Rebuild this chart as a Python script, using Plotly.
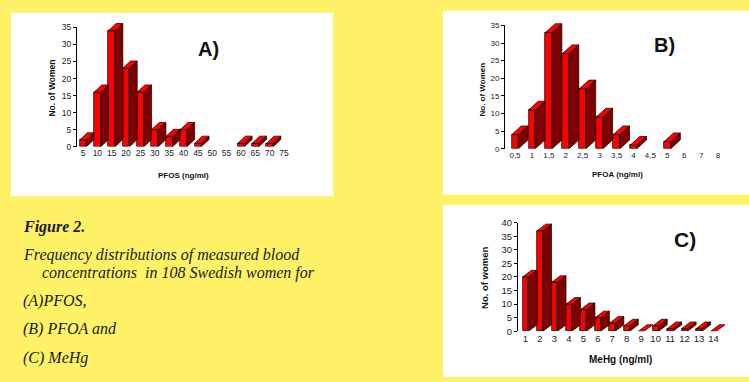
import plotly.graph_objects as go

# ---------------- data ----------------
pfos_labels = ["5", "10", "15", "20", "25", "30", "35", "40", "45", "50", "55", "60", "65", "70", "75"]
pfos_counts = [2, 16, 34, 23, 16, 5, 3, 5, 1, 0, 0, 1, 1, 1, 0]

pfoa_labels = ["0,5", "1", "1,5", "2", "2,5", "3", "3,5", "4", "4,5", "5", "6", "7", "8"]
pfoa_counts = [4, 11, 33, 27, 17, 9, 4, 1, 0, 2, 0, 0, 0]

mehg_labels = ["1", "2", "3", "4", "5", "6", "7", "8", "9", "10", "11", "12", "13", "14"]
mehg_counts = [20, 37, 18, 10, 8, 5, 3, 2, 0, 2, 1, 1, 1, 0]

W, H = 749, 382
FRONT = "#ff0000"
SIDE = "#800000"
EDGE = "#000000"
YELLOW = "#fff266"


def px(x):
    return x / W


def py(y):
    return 1 - y / H


fig = go.Figure()

panels = [
    dict(labels=pfos_labels, counts=pfos_counts, xa="x", ya="y", yd="y2",
         x_left=77, x_right=300, first_px=83, step_px=14.36, y0=145, ytop_disp=22, ytop_data=10,
         ymax=35, bw=0.47, ddx=0.54, ddy_px=7.5, zero=False, tf=8.5),
    dict(labels=pfoa_labels, counts=pfoa_counts, xa="x2", ya="y3", yd="y4",
         x_left=505, x_right=740, first_px=515, step_px=16.92, y0=147, ytop_disp=20, ytop_data=8,
         ymax=35, bw=0.40, ddx=0.57, ddy_px=9, zero=False, tf=8),
    dict(labels=mehg_labels, counts=mehg_counts, xa="x3", ya="y5", yd="y6",
         x_left=518, x_right=740, first_px=525.5, step_px=14.46, y0=335, ytop_disp=223, ytop_data=208,
         ymax=40, bw=0.40, ddx=0.60, ddy_px=6.8, zero=True, tf=9.5),
]

layout_axes = {}
for p in panels:
    n = len(p["labels"])
    xs = list(range(n))
    unit_px = (p["y0"] - p["ytop_disp"]) / p["ymax"]
    ddy = p["ddy_px"] / unit_px
    bw, ddx = p["bw"], p["ddx"]

    side_x, side_y, top_x, top_y = [], [], [], []
    for i, v in zip(xs, p["counts"]):
        if v == 0 and not p["zero"]:
            continue
        r = i + bw / 2
        l = i - bw / 2
        if v > 0:
            side_x += [r, r + ddx, r + ddx, r, r, None]
            side_y += [0, ddy, v + ddy, v, 0, None]
        top_x += [l, r, r + ddx, l + ddx, l, None]
        top_y += [v, v, v + ddy, v + ddy, v, None]

    fig.add_trace(go.Scatter(x=side_x, y=side_y, mode="lines", fill="toself",
                             fillcolor=SIDE, line=dict(color=EDGE, width=0.7),
                             xaxis=p["xa"], yaxis=p["ya"], hoverinfo="skip", showlegend=False))
    fig.add_trace(go.Scatter(x=top_x, y=top_y, mode="lines", fill="toself",
                             fillcolor=FRONT, line=dict(color=EDGE, width=0.7),
                             xaxis=p["xa"], yaxis=p["ya"], hoverinfo="skip", showlegend=False))
    fig.add_trace(go.Bar(x=xs, y=[v if v > 0 else None for v in p["counts"]], width=bw,
                         marker=dict(color=FRONT, line=dict(color=EDGE, width=0.7)),
                         xaxis=p["xa"], yaxis=p["ya"], showlegend=False, hoverinfo="skip"))
    fig.add_trace(go.Scatter(x=[None], y=[None], xaxis=p["xa"], yaxis=p["yd"],
                             showlegend=False, hoverinfo="skip"))

    r0 = (p["x_left"] - p["first_px"]) / p["step_px"]
    r1 = (p["x_right"] - p["first_px"]) / p["step_px"]
    data_top = (p["y0"] - p["ytop_data"]) / unit_px

    xkey = "xaxis" + p["xa"][1:]
    ykey = "yaxis" + p["ya"][1:]
    dkey = "yaxis" + p["yd"][1:]
    layout_axes[xkey] = dict(domain=[px(p["x_left"]), px(p["x_right"])], range=[r0, r1],
                             anchor=p["ya"], tickmode="array", tickvals=xs, ticktext=p["labels"],
                             showline=False, showgrid=False, zeroline=False, ticks="",
                             tickfont=dict(family="Liberation Sans, Arial", size=p["tf"], color="#222"),
                             fixedrange=True)
    layout_axes[ykey] = dict(domain=[py(p["y0"]), py(p["ytop_data"])], range=[0, data_top],
                             anchor=p["xa"], visible=False, fixedrange=True)
    layout_axes[dkey] = dict(domain=[py(p["y0"]), py(p["ytop_disp"])], range=[0, p["ymax"]],
                             anchor=p["xa"], showline=True, linecolor="#000", linewidth=1,
                             ticks="outside", ticklen=3, tickcolor="#000", tickwidth=1,
                             dtick=5, tick0=0, showgrid=False, zeroline=False,
                             tickfont=dict(family="Liberation Sans, Arial", size=p["tf"], color="#222"),
                             fixedrange=True)

shapes = [
    dict(type="rect", xref="paper", yref="paper", x0=px(11), x1=px(333), y0=py(196), y1=py(7),
         fillcolor="white", line=dict(width=0), layer="below"),
    dict(type="rect", xref="paper", yref="paper", x0=px(443), x1=1, y0=py(194), y1=py(5),
         fillcolor="white", line=dict(width=0), layer="below"),
    dict(type="rect", xref="paper", yref="paper", x0=px(443), x1=1, y0=0, y1=py(205),
         fillcolor="white", line=dict(width=0), layer="below"),
]

SANS = "Liberation Sans, Arial"
SERIF = "Liberation Serif, Times New Roman"


def ann(text, x, y, size, family=SANS, angle=0, xanchor="center", color="#111"):
    return dict(text=text, x=px(x), y=py(y), xref="paper", yref="paper", showarrow=False,
                xanchor=xanchor, yanchor="middle", textangle=angle,
                font=dict(family=family, size=size, color=color))


annotations = [
    ann("<b>A)</b>", 208, 44, 20),
    ann("<b>B)</b>", 664, 40, 20),
    ann("<b>C)</b>", 685, 240, 21),
    ann("<b>No. of Women</b>", 52, 85, 8.5, angle=-90),
    ann("<b>No. of Women</b>", 483, 86, 8, angle=-90),
    ann("<b>No. of women</b>", 485, 280, 9.5, angle=-90),
    ann("<b>PFOS (ng/ml)</b>", 183, 175, 8),
    ann("<b>PFOA (ng/ml)</b>", 617, 173, 8),
    ann("<b>MeHg (ng/ml)</b>", 620, 364, 10),
    ann("<b><i>Figure 2.</i></b>", 21, 228, 16, family=SERIF, xanchor="left", color="#1a1a1a"),
    ann("<i>Frequency distributions of measured blood</i>", 21, 256, 16, family=SERIF, xanchor="left", color="#1a1a1a"),
    ann("<i>concentrations  in 108 Swedish women for</i>", 40, 275, 16, family=SERIF, xanchor="left", color="#1a1a1a"),
    ann("<i>(A)PFOS,</i>", 21, 304, 16, family=SERIF, xanchor="left", color="#1a1a1a"),
    ann("<i>(B) PFOA and</i>", 21, 333, 16, family=SERIF, xanchor="left", color="#1a1a1a"),
    ann("<i>(C) MeHg</i>", 21, 362, 16, family=SERIF, xanchor="left", color="#1a1a1a"),
]

fig.update_layout(
    width=W, height=H, margin=dict(l=0, r=0, t=0, b=0),
    paper_bgcolor=YELLOW, plot_bgcolor="rgba(0,0,0,0)",
    shapes=shapes, annotations=annotations, showlegend=False,
    bargap=0, **layout_axes,
)

fig.write_html("out.html", config={"displayModeBar": False},
               post_script="document.body.style.margin='0';document.body.style.padding='0';"
                           "document.body.style.overflow='hidden';")
